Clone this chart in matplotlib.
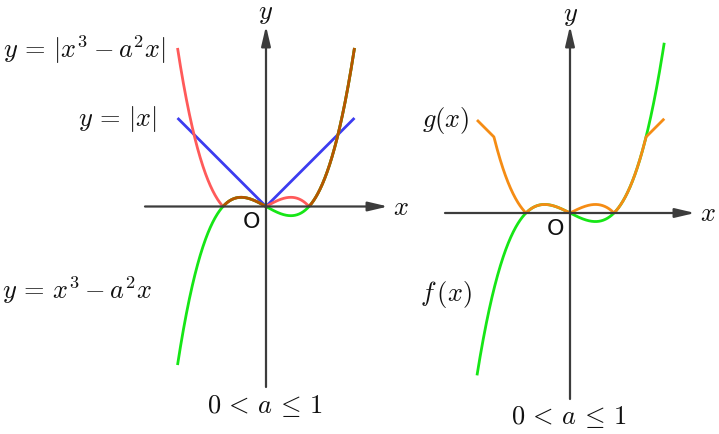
import numpy as np
import matplotlib.pyplot as plt

plt.rcParams['mathtext.fontset'] = 'cm'

# parameter a and the x range drawn in each panel
a_left = 0.745
x_left = (-1.532, 1.532)
a_right = 0.71
x_right = (-1.5, 1.52)

label_left = [r'$y\,=\,|x^3-a^2x|$', r'$y\,=\,|x|$', r'$y\,=\,x^3-a^2x$']
label_right = [r'$g(x)$', r'$f\,(x)$']
caption = r'$0\,<\,a\,\leq\,1$'

RED = '#ff5a5a'
BLUE = '#3c3cf0'
GREEN = '#16e616'
BROWN = '#b85400'
ORANGE = '#f58c14'
AXIS = '#3c3c3c'

W, H = 719, 435
fig = plt.figure(figsize=(W / 100, H / 100), dpi=100)


def make_ax(left_px, right_px, ox, oy, s):
    ax = fig.add_axes([left_px / W, 0, (right_px - left_px) / W, 1])
    ax.set_xlim((left_px - ox) / s, (right_px - ox) / s)
    ax.set_ylim((oy - H) / s, oy / s)
    ax.axis('off')
    return ax


def draw_axes(ax, x0, x1, y0, y1):
    kw = dict(arrowstyle='-|>,head_length=0.85,head_width=0.2', color=AXIS,
              lw=1.6, shrinkA=0, shrinkB=0, mutation_scale=14)
    ax.annotate('', xy=(x1, 0), xytext=(x0, 0), arrowprops=kw)
    ax.annotate('', xy=(0, y1), xytext=(0, y0), arrowprops=kw)


def f(x, a):
    return x ** 3 - a ** 2 * x


LW = 2.0

# left panel
s1 = 57.75
ox1, oy1 = 266, 207.5
ax1 = make_ax(0, 400, ox1, oy1, s1)
draw_axes(ax1, (145 - ox1) / s1, (388 - ox1) / s1, (oy1 - 388) / s1, (oy1 - 27) / s1)

x = np.linspace(x_left[0], x_left[1], 600)
y = f(x, a_left)
ax1.plot(x, np.abs(x), color=BLUE, lw=LW, solid_capstyle='butt')
ax1.plot(x, np.abs(y), color=RED, lw=LW, solid_capstyle='butt')
ax1.plot(x, y, color=GREEN, lw=LW, solid_capstyle='butt')
ax1.plot(x, np.where(y >= 0, y, np.nan), color=BROWN, lw=LW, solid_capstyle='butt')

def px1(px, py):
    return (px - ox1) / s1, (oy1 - py) / s1

tkw = dict(ha='center', va='center', fontsize=19, color='#111111')
okw = dict(ha='center', va='center', fontsize=16, color='#111111')
ax1.text(*px1(266, 13), r'$y$', **tkw)
ax1.text(*px1(401, 208), r'$x$', **tkw)
ax1.text(*px1(252, 222), 'O', **okw)
ax1.text(*px1(84, 50), label_left[0], **tkw)
ax1.text(*px1(117, 119), label_left[1], **tkw)
ax1.text(*px1(77, 290), label_left[2], **tkw)
ax1.text(*px1(265, 406), caption, **tkw)

# right panel
s2 = 62.0
ox2, oy2 = 570, 214
ax2 = make_ax(400, 719, ox2, oy2, s2)
draw_axes(ax2, (445 - ox2) / s2, (695 - ox2) / s2, (oy2 - 400) / s2, (oy2 - 27) / s2)

x = np.linspace(x_right[0], x_right[1], 600)
y = f(x, a_right)
ax2.plot(x, y, color=GREEN, lw=LW, solid_capstyle='butt')
ax2.plot(x, np.minimum(np.abs(x), np.abs(y)), color=ORANGE, lw=LW, solid_capstyle='butt')

def px2(px, py):
    return (px - ox2) / s2, (oy2 - py) / s2

ax2.text(*px2(571, 15), r'$y$', **tkw)
ax2.text(*px2(708, 214), r'$x$', **tkw)
ax2.text(*px2(556, 229), 'O', **okw)
ax2.text(*px2(446, 120), label_right[0], **tkw)
ax2.text(*px2(446, 295), label_right[1], **tkw)
ax2.text(*px2(569, 417), caption, **tkw)

fig.savefig('out.png', dpi=100, facecolor='white')
